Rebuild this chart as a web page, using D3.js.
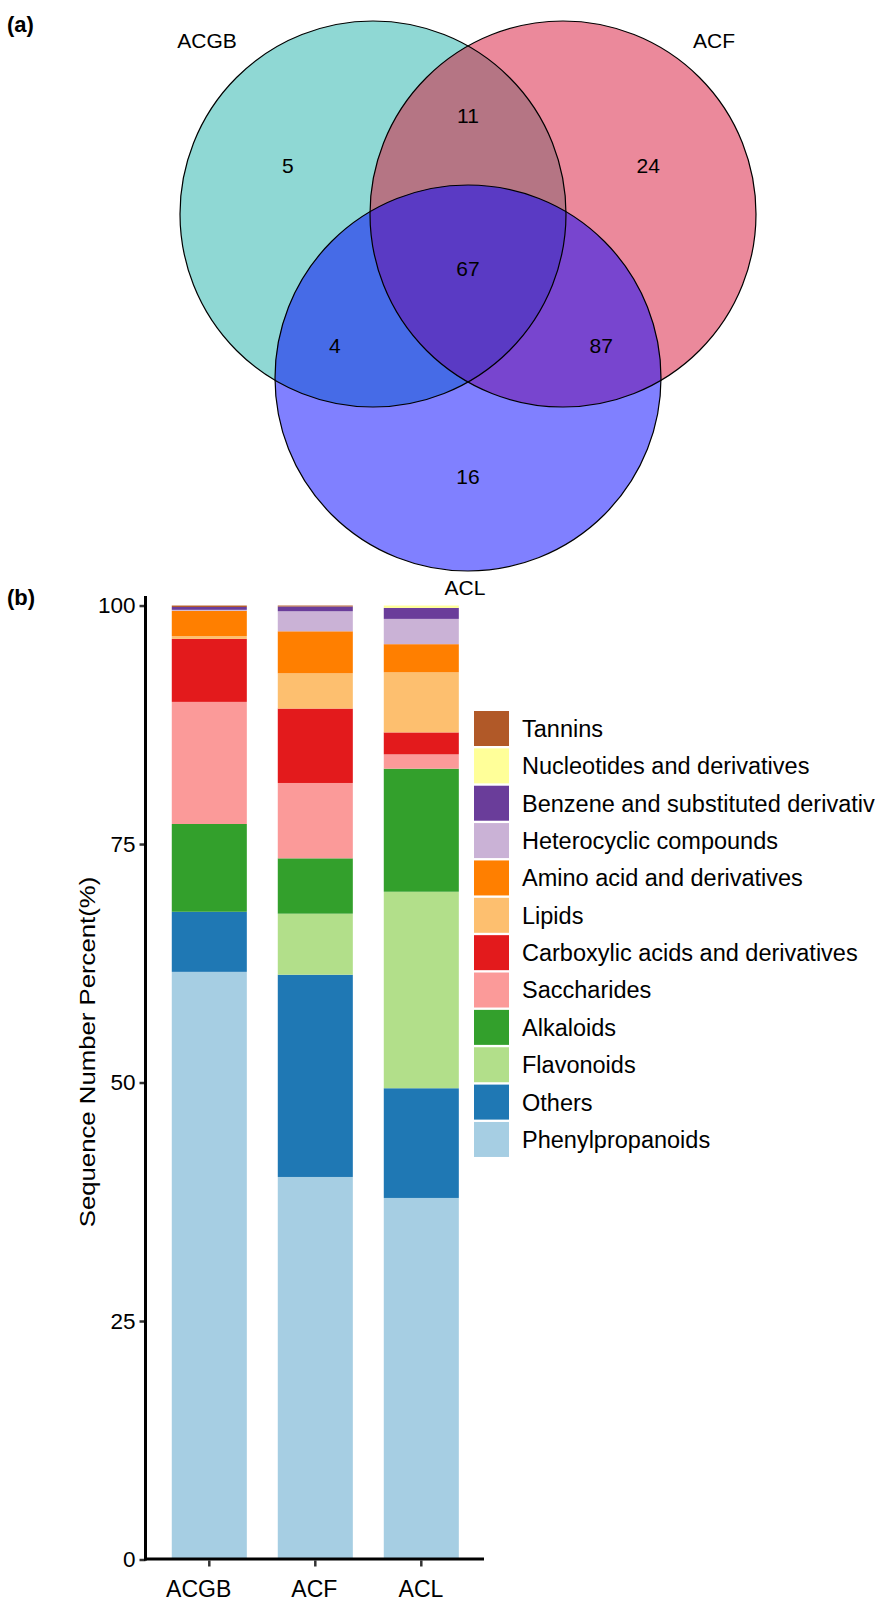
<!DOCTYPE html>
<html>
<head>
<meta charset="utf-8">
<script src="https://cdn.jsdelivr.net/npm/d3@7"></script>
<style>
  body { margin: 0; background: #fff; }
  text { font-family: "Liberation Sans", Arial, sans-serif; fill: #000; }
</style>
</head>
<body>
<script>
// ---- data ----
const vennSets = ["ACGB", "ACF", "ACL"];
const vennRegions = [["ACGB"], ["ACF"], ["ACL"], ["ACGB", "ACF"], ["ACGB", "ACL"], ["ACF", "ACL"], ["ACGB", "ACF", "ACL"]];
const vennCounts = [5, 24, 16, 11, 4, 87, 67];
const vennColors = ["#8fd8d4", "#eb899b", "#8080ff", "#b57584", "#466be7", "#7845cf", "#5a3ac4"];

const samples = ["ACGB", "ACF", "ACL"];
const classes = ["Phenylpropanoids", "Others", "Flavonoids", "Alkaloids", "Saccharides",
  "Carboxylic acids and derivatives", "Lipids", "Amino acid and derivatives",
  "Heterocyclic compounds", "Benzene and substituted derivatives",
  "Nucleotides and derivatives", "Tannins"];
const acgbPct = [61.6, 6.3, 0, 9.2, 12.8, 6.6, 0.3, 2.65, 0.1, 0.3, 0, 0.15];
const acfPct  = [40.1, 21.2, 6.4, 5.8, 7.9, 7.8, 3.7, 4.4, 2.1, 0.5, 0, 0.1];
const aclPct  = [37.9, 11.5, 20.6, 12.9, 1.5, 2.3, 6.3, 2.95, 2.65, 1.15, 0.25, 0];
const classColors = ["#a6cee3", "#1f78b4", "#b2df8a", "#33a02c", "#fb9a99", "#e31a1c",
  "#fdbf6f", "#ff7f00", "#cab2d6", "#6a3d9a", "#ffff99", "#b15928"];
const yTicks = [0, 25, 50, 75, 100];

const width = 875, height = 1601;
const svg = d3.select("body").append("svg")
    .attr("width", width)
    .attr("height", height);

// ---- (a) venn ----
const r = 193;
const circles = [
  { name: "ACGB", cx: 373, cy: 214, lx: 207, ly: 48 },
  { name: "ACF", cx: 563, cy: 214, lx: 714, ly: 48 },
  { name: "ACL", cx: 468, cy: 378, lx: 465, ly: 595 }
];

svg.append("text").attr("x", 7).attr("y", 32)
    .style("font-weight", "bold").style("font-size", "22px").text("(a)");

const defs = svg.append("defs");
circles.forEach((c, i) => {
  defs.append("clipPath").attr("id", "clip" + i)
    .append("circle").attr("cx", c.cx).attr("cy", c.cy).attr("r", r);
});

const venn = svg.append("g");
// single sets
circles.forEach((c, i) => {
  venn.append("circle").attr("cx", c.cx).attr("cy", c.cy).attr("r", r)
      .attr("fill", vennColors[i]);
});
// overlaps, drawn with clip paths
vennRegions.forEach((reg, k) => {
  if (reg.length < 2) return;
  const idx = reg.map(s => vennSets.indexOf(s));
  let g = venn;
  idx.slice(0, -1).forEach(j => { g = g.append("g").attr("clip-path", `url(#clip${j})`); });
  const last = circles[idx[idx.length - 1]];
  g.append("circle").attr("cx", last.cx).attr("cy", last.cy).attr("r", r)
      .attr("fill", vennColors[k]);
});
// outlines
circles.forEach(c => {
  venn.append("circle").attr("cx", c.cx).attr("cy", c.cy).attr("r", r)
      .attr("fill", "none").attr("stroke", "#000").attr("stroke-width", 1.2);
});

// region labels: pushed out from the centre of the three circles
const gx = d3.mean(circles, c => c.cx), gy = d3.mean(circles, c => c.cy);
const pushOut = { 1: 1.077 * r, 2: 0.796 * r, 3: 0 };
vennRegions.forEach((reg, k) => {
  const members = circles.filter(c => reg.includes(c.name));
  let dx = d3.mean(members, c => c.cx) - gx, dy = d3.mean(members, c => c.cy) - gy;
  const len = Math.hypot(dx, dy) || 1;
  const d = pushOut[reg.length];
  venn.append("text").attr("x", gx + dx / len * d).attr("y", gy + dy / len * d).attr("dy", "0.36em")
      .attr("text-anchor", "middle").style("font-size", "21px").text(vennCounts[k]);
});

circles.forEach(c => {
  venn.append("text").attr("x", c.lx).attr("y", c.ly)
      .attr("text-anchor", "middle").style("font-size", "21px").text(c.name);
});

// ---- (b) stacked bars ----
svg.append("text").attr("x", 7).attr("y", 605)
    .style("font-weight", "bold").style("font-size", "22px").text("(b)");

const rows = samples.map((s, i) => {
  const vals = [acgbPct, acfPct, aclPct][i];
  const o = { sample: s };
  classes.forEach((c, j) => o[c] = vals[j]);
  return o;
});

const x = d3.scaleBand().domain(samples).range([156.3, 474.3])
    .paddingInner(0.292).paddingOuter(0.146);
const y = d3.scaleLinear().domain([0, 101]).range([1559.5, 596]);
const color = d3.scaleOrdinal().domain(classes).range(classColors);

const series = d3.stack().keys(classes)(rows);

svg.append("g").selectAll("g")
  .data(series)
  .join("g")
    .attr("fill", d => color(d.key))
  .selectAll("rect")
  .data(d => d)
  .join("rect")
    .attr("x", d => x(d.data.sample))
    .attr("width", x.bandwidth())
    .attr("y", d => y(d[1]))
    .attr("height", d => y(d[0]) - y(d[1]));

// y axis
const yAxis = svg.append("g").attr("transform", "translate(145.5,0)")
    .call(d3.axisLeft(y).tickValues(yTicks).tickSize(6).tickSizeOuter(0).tickPadding(4));
yAxis.select(".domain").remove();
yAxis.selectAll(".tick line").attr("stroke", "#333").attr("stroke-width", 2.5);
yAxis.selectAll(".tick text").style("font-size", "22.5px").attr("fill", "#000");
svg.append("line").attr("x1", 145.5).attr("x2", 145.5).attr("y1", y(101)).attr("y2", 1560.5)
    .attr("stroke", "#000").attr("stroke-width", 3);

// x axis
const xAxis = svg.append("g").attr("transform", "translate(0,1560.5)")
    .call(d3.axisBottom(x).tickSize(6).tickSizeOuter(0).tickPadding(14));
xAxis.select(".domain").remove();
xAxis.selectAll(".tick line").attr("stroke", "#333").attr("stroke-width", 2.5);
xAxis.selectAll(".tick text").style("font-size", "23px").attr("fill", "#000")
    .attr("text-anchor", "end").attr("dx", 22).attr("dy", "0.71em");
svg.append("line").attr("x1", 144).attr("x2", 484).attr("y1", 1559).attr("y2", 1559)
    .attr("stroke", "#000").attr("stroke-width", 3);

svg.append("text")
    .attr("transform", "translate(95,1052) rotate(-90) scale(1.12,1)")
    .attr("text-anchor", "middle").style("font-size", "23px")
    .text("Sequence Number Percent(%)");

// legend (top = last stacked class)
const legend = svg.append("g").selectAll("g")
  .data(classes.slice().reverse())
  .join("g")
    .attr("transform", (d, i) => `translate(474,${711 + i * 37.36})`);
legend.append("rect").attr("width", 35).attr("height", 35).attr("fill", d => color(d));
legend.append("text").attr("x", 48).attr("y", 17.5).attr("dy", "0.36em")
    .style("font-size", "23.5px").text(d => d);
</script>
</body>
</html>
